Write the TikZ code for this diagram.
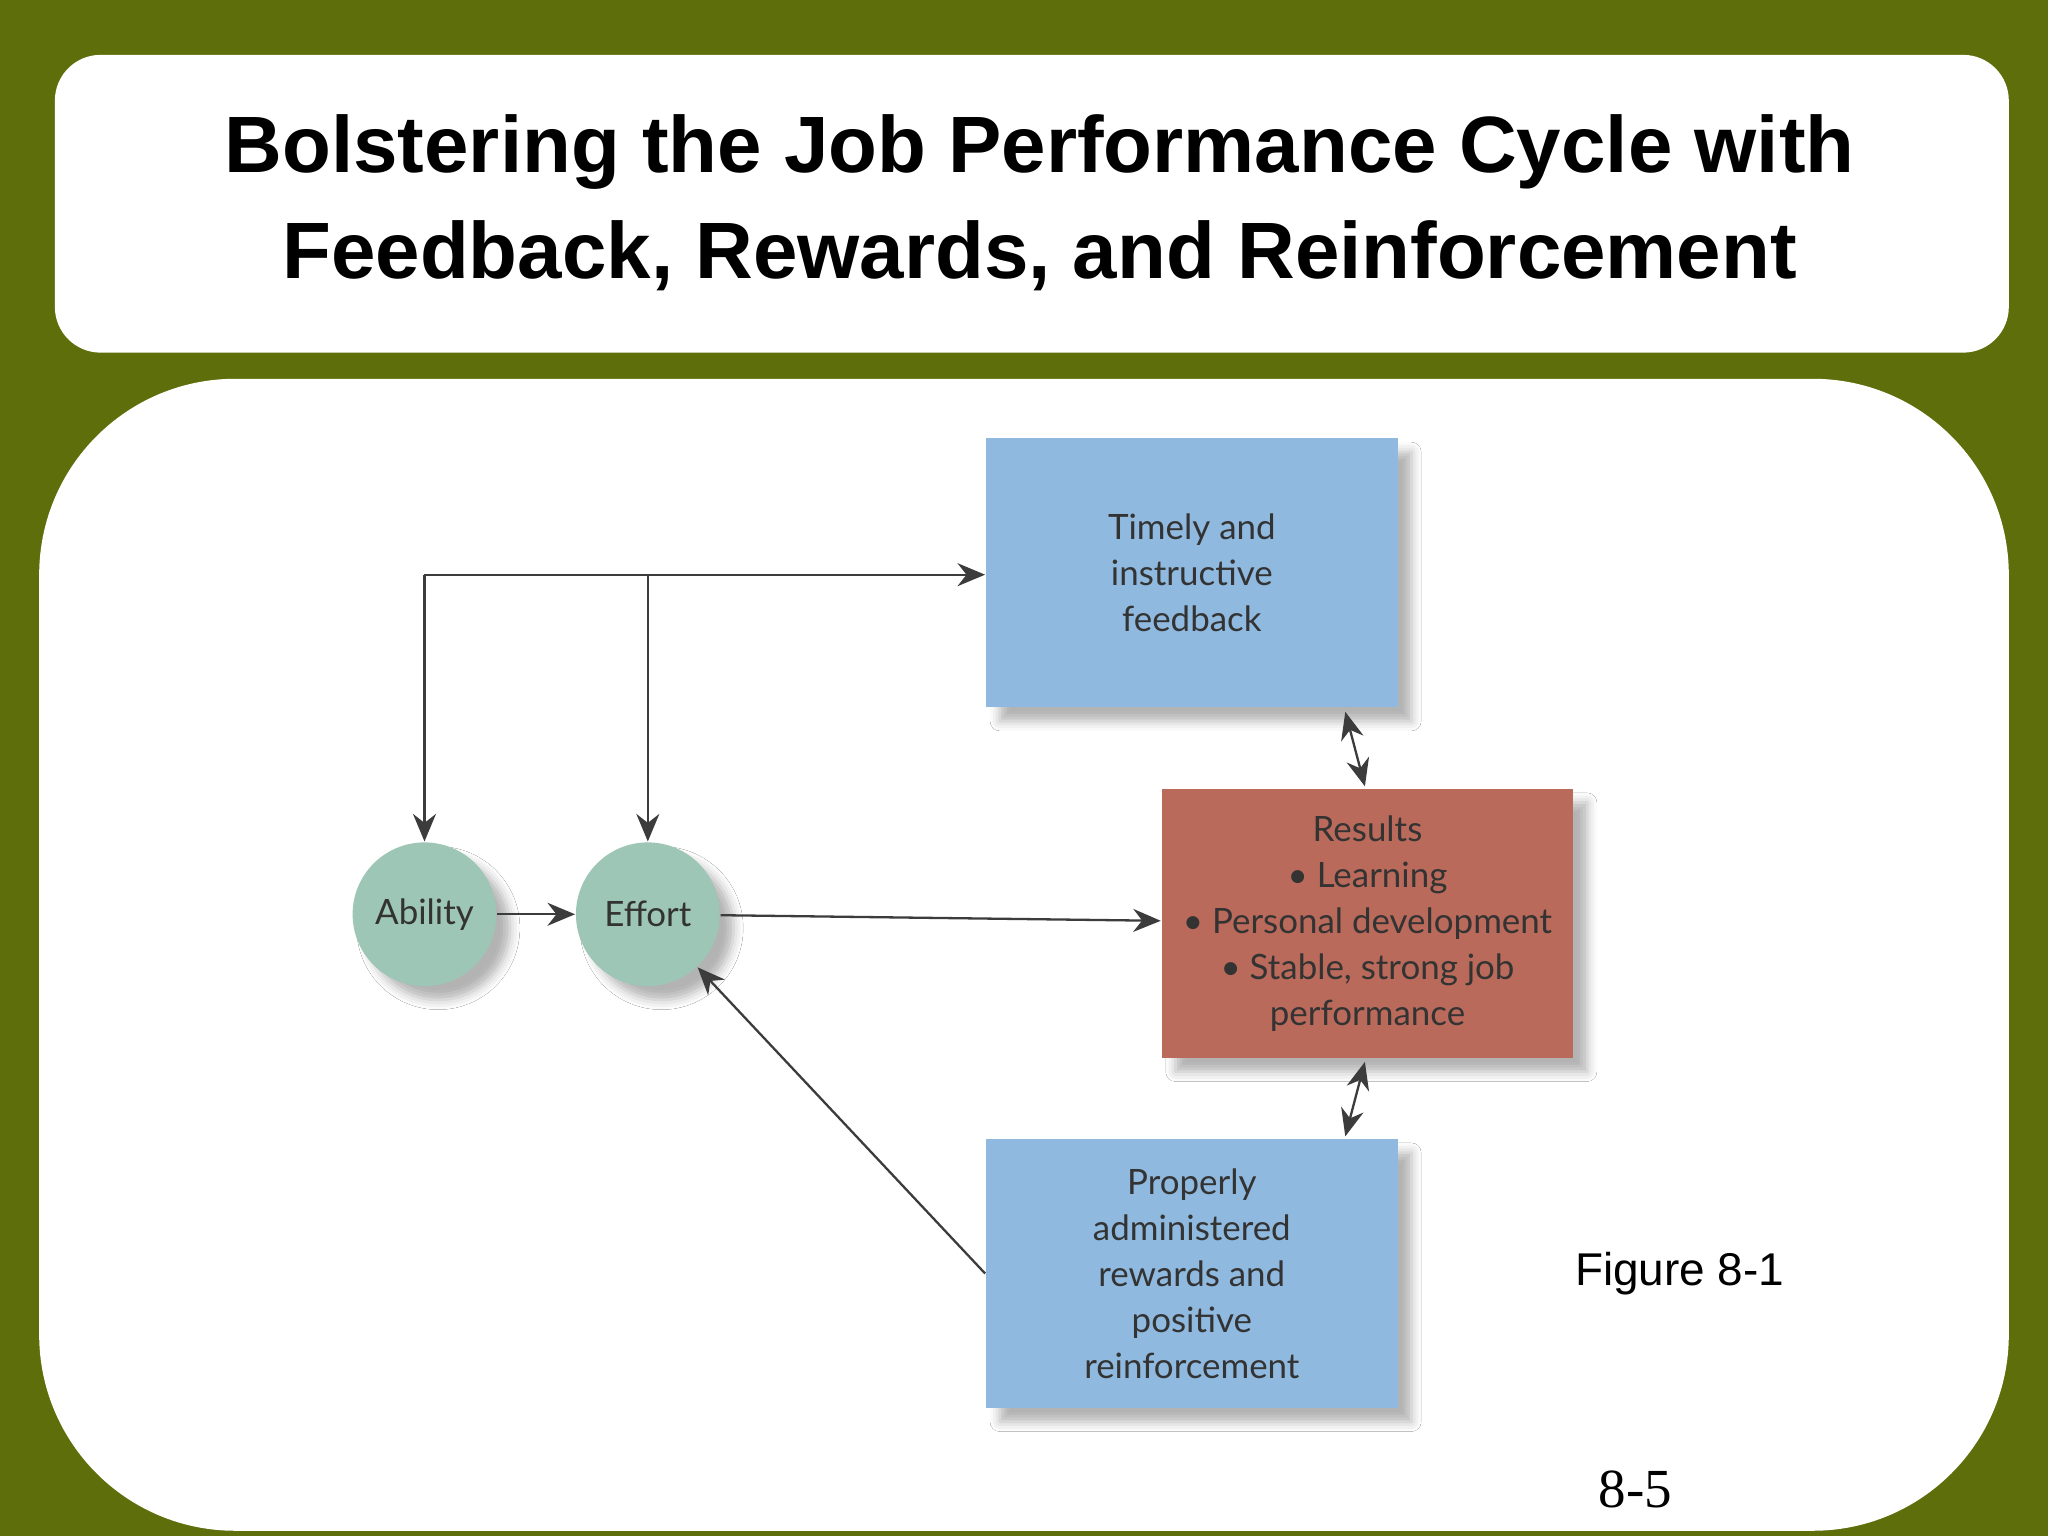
\documentclass[tikz,border=0pt]{standalone}
\usepackage{fontspec}
\setmainfont{Liberation Sans}
\newfontfamily\boxfont{Lato}
\newfontfamily\serifnum{Liberation Serif}
\usetikzlibrary{arrows.meta,shadows.blur}
\definecolor{olive}{RGB}{94,110,10}
\definecolor{boxblue}{RGB}{143,185,222}
\definecolor{boxred}{RGB}{186,106,90}
\definecolor{circ}{RGB}{158,198,182}
\definecolor{arr}{RGB}{60,60,60}
\tikzset{
  bx/.style={draw=none,minimum width=3.15cm,minimum height=2.06cm,align=center,font=\boxfont\fontsize{7.6pt}{10pt}\selectfont,text=black!80,blur shadow={shadow xshift=3pt,shadow yshift=-3pt,shadow opacity=30}},
  cr/.style={circle,fill=circ,minimum size=1.1cm,inner sep=0pt,font=\boxfont\fontsize{7.6pt}{10pt}\selectfont,text=black!80,blur shadow={shadow xshift=3pt,shadow yshift=-3pt,shadow opacity=30}},
  ar/.style={draw=arr,line width=0.5pt,-{Stealth[length=6pt,width=5pt]}},
  dar/.style={draw=arr,line width=0.5pt,{Stealth[length=6pt,width=5pt]}-{Stealth[length=6pt,width=5pt]}}
}
\begin{document}
\begin{tikzpicture}[x=0.01cm,y=-0.01cm]
\fill[olive] (0,0) rectangle (1568,1176);
\useasboundingbox (0,0) rectangle (1568,1176);
\fill[white,rounded corners=0.35cm] (42,42) rectangle (1538,270);
\node[font=\bfseries\fontsize{17.4pt}{23pt}\selectfont,align=center] (title) at (796,155) {Bolstering the Job Performance Cycle with\\Feedback, Rewards, and Reinforcement};
\fill[white,rounded corners=1.5cm] (30,290) rectangle (1538,1172);
\node[bx,fill=boxblue] (fb) at (912.5,438.5) {Timely and\\instructive\\feedback};
\node[bx,fill=boxred] (res) at (1047,707) {Results\\\textbullet\ Learning\\\textbullet\ Personal development\\\textbullet\ Stable, strong job\\performance};
\node[bx,fill=boxblue] (rw) at (912.5,975) {Properly\\administered\\rewards and\\positive\\reinforcement};
\node[cr] (ab) at (325,700) {Ability};
\node[cr] (ef) at (496,700) {Effort};
\coordinate (c1) at (325,440);
\coordinate (c2) at (496,440);
\draw[ar] (c1) -- (fb.west|-c1);
\draw[ar] (c1) -- (ab);
\draw[ar] (c2) -- (ef);
\draw[ar] (ab) -- (ef);
\draw[ar] (ef) -- (res);
\draw[ar] (rw.west) -- (ef);
\draw[dar] (1030,545) -- (1045,602);
\draw[dar] (1045,813) -- (1030,870);
\node[font=\fontsize{10pt}{12pt}\selectfont] (fig) at (1286,975) {Figure 8-1};
\node[font=\serifnum\fontsize{12pt}{14pt}\selectfont] (pg) at (1252,1140) {8-5};
\end{tikzpicture}
\end{document}
